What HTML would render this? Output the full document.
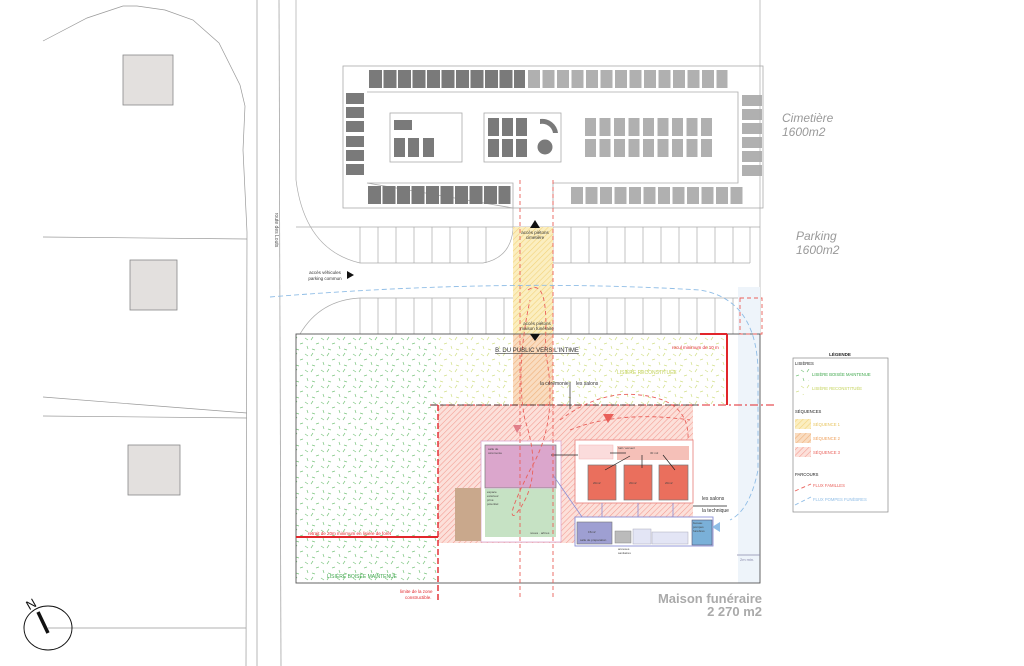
<!DOCTYPE html>
<html><head><meta charset="utf-8"><style>
html,body{margin:0;padding:0;background:#fff;}
svg{display:block;font-family:"Liberation Sans",sans-serif;}
</style></head><body>
<svg width="1024" height="666" viewBox="0 0 1024 666" xmlns="http://www.w3.org/2000/svg">
<defs>
<pattern id="grn" width="16" height="16" patternUnits="userSpaceOnUse">
<path d="M1 2l3 2M9 1l-2 3M12 8l3-1M3 10l1 3M8 13l3 1" stroke="#7cc580" stroke-width="0.7" fill="none"/>
</pattern>
<pattern id="ylw" width="16" height="16" patternUnits="userSpaceOnUse">
<path d="M1 2l3 2M9 1l-2 3M12 8l3-1M3 10l1 3M8 13l3 1" stroke="#d3e08a" stroke-width="0.7" fill="none"/>
</pattern>
<pattern id="h1" width="4" height="4" patternUnits="userSpaceOnUse" patternTransform="rotate(45)">
<rect width="4" height="4" fill="#fbeec0"/><line x1="0" y1="0" x2="0" y2="4" stroke="#f3d37a" stroke-width="1.2"/>
</pattern>
<pattern id="h2" width="4" height="4" patternUnits="userSpaceOnUse" patternTransform="rotate(45)">
<rect width="4" height="4" fill="#f9dcc0"/><line x1="0" y1="0" x2="0" y2="4" stroke="#f0b07a" stroke-width="1.2"/>
</pattern>
<pattern id="h3" width="4" height="4" patternUnits="userSpaceOnUse" patternTransform="rotate(45)">
<rect width="4" height="4" fill="#fce0da"/><line x1="0" y1="0" x2="0" y2="4" stroke="#f39a90" stroke-width="1.1"/>
</pattern>
</defs>

<g stroke="#999" stroke-width="0.7" fill="none">
<path d="M43 41 L87 18 L123 6 L137 6 L165 10 L193 20 L219 43 L240 85 L245 106 L243 150 L247 232 L246 666"/>
<path d="M43 237 L247 239"/>
<path d="M43 397 L247 413"/>
<path d="M43 416 L247 418"/>
<path d="M48 628 L246 628"/>
<line x1="257" y1="0" x2="257" y2="666"/>
<line x1="279" y1="0" x2="281" y2="666"/>
</g>
<g fill="#e3e0de" stroke="#888" stroke-width="0.8">
<rect x="123" y="55" width="50" height="50"/>
<rect x="130" y="260" width="47" height="50"/>
<rect x="128" y="445" width="52" height="50"/>
</g>
<text x="275" y="230" font-size="5" fill="#555" transform="rotate(90 275 230)" text-anchor="middle">route des Louts</text>
<ellipse cx="48" cy="628" rx="24" ry="22" fill="none" stroke="#111" stroke-width="1"/>
<line x1="38" y1="612" x2="48" y2="633" stroke="#111" stroke-width="3.5"/>
<text x="26" y="608" font-size="13" fill="#111" transform="rotate(-30 32 603)">N</text>

<rect x="343" y="66" width="420" height="142" fill="none" stroke="#aaa" stroke-width="0.8"/>
<path d="M367 92 L738 92 L738 183 L553 183 L553 208 M513 208 L513 183 L367 183 Z" fill="#fff" stroke="#aaa" stroke-width="0.8"/>
<rect x="390" y="113" width="72" height="49" fill="none" stroke="#aaa" stroke-width="0.8"/>
<rect x="484" y="113" width="77" height="49" fill="none" stroke="#aaa" stroke-width="0.8"/>
<g fill="#7a7a7a">
<rect x="394" y="120" width="18" height="10"/>
<rect x="394" y="138" width="11" height="19"/><rect x="408" y="138" width="11" height="19"/><rect x="423" y="138" width="11" height="19"/>
<rect x="488" y="118" width="11" height="18"/><rect x="502" y="118" width="11" height="18"/><rect x="516" y="118" width="11" height="18"/>
<rect x="488" y="139" width="11" height="18"/><rect x="502" y="139" width="11" height="18"/><rect x="516" y="139" width="11" height="18"/>
<circle cx="545" cy="147" r="7.5"/>
<path d="M540 119 A16 16 0 0 1 558 133 L553 133 A11 11 0 0 0 540 124 Z"/>
<rect x="369" y="70" width="13" height="18"/><rect x="383.5" y="70" width="13" height="18"/><rect x="398" y="70" width="13" height="18"/><rect x="412.5" y="70" width="13" height="18"/><rect x="427" y="70" width="13" height="18"/><rect x="441.5" y="70" width="13" height="18"/><rect x="456" y="70" width="13" height="18"/><rect x="470.5" y="70" width="13" height="18"/><rect x="485" y="70" width="13" height="18"/><rect x="499.5" y="70" width="13" height="18"/><rect x="514" y="70" width="11" height="18"/>
<rect x="346" y="93" width="18" height="11"/><rect x="346" y="107" width="18" height="11"/><rect x="346" y="121" width="18" height="11"/><rect x="346" y="136" width="18" height="11"/><rect x="346" y="150" width="18" height="11"/><rect x="346" y="164" width="18" height="11"/>
<rect x="368" y="186" width="13" height="18"/><rect x="382.5" y="186" width="13" height="18"/><rect x="397" y="186" width="13" height="18"/><rect x="411.5" y="186" width="13" height="18"/><rect x="426" y="186" width="13" height="18"/><rect x="440.5" y="186" width="13" height="18"/><rect x="455" y="186" width="13" height="18"/><rect x="469.5" y="186" width="13" height="18"/><rect x="484" y="186" width="13" height="18"/><rect x="498.5" y="186" width="12" height="18"/>
</g>
<g fill="#b0b0b0">
<rect x="528" y="70" width="12" height="18"/><rect x="542.5" y="70" width="12" height="18"/><rect x="557" y="70" width="12" height="18"/><rect x="571.5" y="70" width="12" height="18"/><rect x="586" y="70" width="12" height="18"/><rect x="600.5" y="70" width="12" height="18"/><rect x="615" y="70" width="12" height="18"/><rect x="629.5" y="70" width="12" height="18"/><rect x="644" y="70" width="12" height="18"/><rect x="658.5" y="70" width="12" height="18"/><rect x="673" y="70" width="12" height="18"/><rect x="687.5" y="70" width="12" height="18"/><rect x="702" y="70" width="12" height="18"/><rect x="716.5" y="70" width="11" height="18"/>
<rect x="585" y="118" width="11" height="18"/><rect x="599.5" y="118" width="11" height="18"/><rect x="614" y="118" width="11" height="18"/><rect x="628.5" y="118" width="11" height="18"/><rect x="643" y="118" width="11" height="18"/><rect x="657.5" y="118" width="11" height="18"/><rect x="672" y="118" width="11" height="18"/><rect x="686.5" y="118" width="11" height="18"/><rect x="701" y="118" width="11" height="18"/>
<rect x="585" y="139" width="11" height="18"/><rect x="599.5" y="139" width="11" height="18"/><rect x="614" y="139" width="11" height="18"/><rect x="628.5" y="139" width="11" height="18"/><rect x="643" y="139" width="11" height="18"/><rect x="657.5" y="139" width="11" height="18"/><rect x="672" y="139" width="11" height="18"/><rect x="686.5" y="139" width="11" height="18"/><rect x="701" y="139" width="11" height="18"/>
<rect x="742" y="95" width="20" height="11"/><rect x="742" y="109" width="20" height="11"/><rect x="742" y="123" width="20" height="11"/><rect x="742" y="137" width="20" height="11"/><rect x="742" y="151" width="20" height="11"/><rect x="742" y="165" width="20" height="11"/>
<rect x="571" y="187" width="12" height="17"/><rect x="585.5" y="187" width="12" height="17"/><rect x="600" y="187" width="12" height="17"/><rect x="614.5" y="187" width="12" height="17"/><rect x="629" y="187" width="12" height="17"/><rect x="643.5" y="187" width="12" height="17"/><rect x="658" y="187" width="12" height="17"/><rect x="672.5" y="187" width="12" height="17"/><rect x="687" y="187" width="12" height="17"/><rect x="701.5" y="187" width="12" height="17"/><rect x="716" y="187" width="12" height="17"/><rect x="730.5" y="187" width="12" height="17"/>
</g>
<text x="782" y="122" font-size="12" font-style="italic" fill="#999">Cimetière</text>
<text x="782" y="136" font-size="12" font-style="italic" fill="#999">1600m2</text>

<g stroke="#aaa" stroke-width="0.7" fill="none">
<line x1="296" y1="227" x2="760" y2="227"/>
<line x1="760" y1="0" x2="760" y2="334"/>
<path d="M296 0 L296 180 Q305 250 360 263 L483 263 Q510 258 513 230 L513 208"/>
<line x1="553" y1="263" x2="750" y2="263"/>
<path d="M360 227 V263 M378 227 V263 M396 227 V263 M414 227 V263 M432 227 V263 M450 227 V263 M468 227 V263 M486 227 V263 M553 227 V263 M571 227 V263 M589 227 V263 M607 227 V263 M625 227 V263 M643 227 V263 M661 227 V263 M679 227 V263 M697 227 V263 M715 227 V263 M733 227 V263 M750 227 V263"/>
<path d="M300 334 Q320 300 360 298 L750 298"/>
<path d="M360 298 V334 M378 298 V334 M396 298 V334 M414 298 V334 M432 298 V334 M450 298 V334 M468 298 V334 M486 298 V334 M504 298 V334 M553 298 V334 M571 298 V334 M589 298 V334 M607 298 V334 M625 298 V334 M643 298 V334 M661 298 V334 M679 298 V334 M697 298 V334 M715 298 V334 M733 298 V334 M750 298 V334"/>
</g>
<text x="796" y="240" font-size="12" font-style="italic" fill="#999">Parking</text>
<text x="796" y="254" font-size="12" font-style="italic" fill="#999">1600m2</text>

<rect x="296" y="334" width="142" height="249" fill="url(#grn)"/>
<rect x="438" y="334" width="290" height="71" fill="url(#ylw)"/>
<rect x="738" y="287" width="22" height="296" fill="#eef4fa"/>
<rect x="513" y="227" width="40" height="107" fill="url(#h1)"/>
<rect x="513" y="334" width="40" height="71" fill="url(#h2)"/>
<rect x="438" y="405" width="255" height="138" fill="url(#h3)"/>
<rect x="296" y="334" width="464" height="249" fill="none" stroke="#555" stroke-width="0.9"/>

<rect x="481" y="441" width="80" height="101" fill="#fff" stroke="#d9a6cf" stroke-width="0.8"/>
<rect x="455" y="488" width="26" height="53" fill="#c9a88c"/>
<rect x="485" y="445" width="71" height="43" fill="#dba6cc" stroke="#777" stroke-width="0.7"/>
<rect x="485" y="489" width="71" height="48" fill="#c6e2c4"/>
<rect x="575" y="440" width="118" height="63" fill="#fff" stroke="#e98a86" stroke-width="0.9"/>
<rect x="579" y="445" width="34" height="14" fill="#fbdcdc" stroke="#f3b6b2" stroke-width="0.5"/>
<rect x="617" y="446" width="72" height="14" fill="#f5c0b8"/>
<g fill="#ea6f5d" stroke="#777" stroke-width="0.7">
<rect x="588" y="465" width="28" height="35"/><rect x="624" y="465" width="28" height="35"/><rect x="659" y="465" width="29" height="35"/>
</g>
<rect x="575" y="517" width="138" height="29" fill="#fff" stroke="#8a8ed6" stroke-width="0.9"/>
<rect x="577" y="522" width="35" height="22" fill="#9e9fd2" stroke="#777" stroke-width="0.6"/>
<rect x="615" y="531" width="16" height="12" fill="#bbb" stroke="#888" stroke-width="0.5"/>
<rect x="633" y="529" width="18" height="15" fill="#e3e5f5" stroke="#aab" stroke-width="0.5"/>
<rect x="652" y="532" width="36" height="12" fill="#e3e5f5" stroke="#aab" stroke-width="0.5"/>
<rect x="692" y="520" width="20" height="25" fill="#7ab0d8" stroke="#557" stroke-width="0.6"/>
<g stroke="#8a8ed6" stroke-width="0.8">
<line x1="602" y1="503" x2="602" y2="517"/><line x1="638" y1="503" x2="638" y2="517"/><line x1="673" y1="503" x2="673" y2="517"/>
<line x1="553" y1="475" x2="582" y2="517"/>
</g>
<g stroke="#222" stroke-width="0.7" fill="none">
<line x1="551" y1="455" x2="578" y2="455"/><line x1="626" y1="453" x2="610" y2="453"/>
<line x1="630" y1="456" x2="605" y2="470"/><line x1="642" y1="455" x2="642" y2="468"/><line x1="663" y1="455" x2="675" y2="470"/>
<line x1="570" y1="382" x2="570" y2="409"/>
<line x1="693" y1="506" x2="727" y2="506"/>
</g>
<g font-size="3" fill="#444">
<text x="488" y="450">salle de</text><text x="488" y="454">cérémonie</text>
<text x="487" y="493">espace</text><text x="487" y="497">extérieur</text><text x="487" y="501">privé</text><text x="487" y="505">potentiel</text>
<text x="530" y="534">noues · arbres</text>
<text x="593" y="484">20m2</text><text x="629" y="484">20m2</text><text x="665" y="484">20m2</text>
<text x="580" y="541">salle de préparation</text><text x="588" y="533">15m2</text>
<text x="618" y="449">hall / accueil</text><text x="650" y="454">30 m2</text>
<text x="618" y="550">annexes</text><text x="618" y="554">sanitaires</text>
<text x="693" y="524">bureau</text><text x="693" y="528">pompes</text><text x="693" y="532">funèbres</text>
</g>
<g stroke="#e1262b" fill="none">
<line x1="438" y1="405" x2="438" y2="600" stroke-width="1.4" stroke-dasharray="6,3"/>
<line x1="296" y1="537" x2="438" y2="537" stroke-width="2"/>
<line x1="727" y1="334" x2="727" y2="405" stroke-width="2"/>
<line x1="700" y1="334" x2="727" y2="334" stroke-width="2"/>
<line x1="430" y1="405" x2="775" y2="405" stroke-width="1.1" stroke-dasharray="8,3,2,3"/>
</g>
<line x1="431" y1="405" x2="700" y2="405" stroke="#222" stroke-width="0.8" stroke-dasharray="6,3"/>
<g stroke="#e9605a" stroke-width="0.9" fill="none" stroke-dasharray="4,3">
<line x1="520" y1="180" x2="520" y2="600"/><line x1="553" y1="180" x2="553" y2="600"/>
<path d="M528 290 Q550 275 545 350 Q560 420 530 470 Q505 520 515 515 Q545 480 525 420 Q515 370 530 300"/>
<path d="M560 420 Q600 390 640 395 Q690 400 688 440"/>
<path d="M570 430 Q620 410 690 420"/>
<rect x="740" y="298" width="22" height="36"/>
</g>
<g stroke="#8fbde6" stroke-width="0.9" fill="none" stroke-dasharray="5,3">
<path d="M270 297 Q500 278 700 290 Q760 300 758 380 L758 470 Q750 510 730 520"/>
</g>
<polygon points="513,425 522,425 517,433" fill="#e17f8a"/>
<polygon points="603,414 614,414 608,423" fill="#e9605a"/>
<polygon points="720,522 720,532 712,527" fill="#8fbde6"/>
<polygon points="530,228 540,228 535,220" fill="#111"/>
<polygon points="530,334 540,334 535,341" fill="#111"/>
<polygon points="347,271 347,279 354,275" fill="#111"/>

<g font-size="4.5" fill="#333" text-anchor="middle">
<text x="535" y="234">accès piétons</text><text x="535" y="239">cimetière</text>
<text x="537" y="325">accès piétons</text><text x="537" y="330">maison funéraire</text>
<text x="325" y="274">accès véhicules</text><text x="325" y="280">parking commun</text>
</g>
<text x="537" y="352" font-size="6" fill="#333" text-anchor="middle" text-decoration="underline">B. DU PUBLIC VERS L'INTIME</text>
<text x="540" y="385" font-size="5" fill="#333">la cérémonie</text>
<text x="576" y="385" font-size="5" fill="#333">les salons</text>
<text x="702" y="500" font-size="5" fill="#333">les salons</text>
<text x="702" y="512" font-size="5" fill="#333">la technique</text>
<text x="672" y="349" font-size="4.5" fill="#e1262b">recul minimum de 10 m</text>
<text x="308" y="535" font-size="4.5" fill="#e1262b">retrait de 20m minimum en lisière de forêt</text>
<text x="400" y="593" font-size="4.5" fill="#e1262b">limite de la zone</text>
<text x="405" y="599" font-size="4.5" fill="#e1262b">constructible.</text>
<text x="617" y="374" font-size="5" fill="#c4d35b">LISIÈRE RECONSTITUÉE</text>
<text x="327" y="578" font-size="5" fill="#3da64a">LISIÈRE BOISÉE MAINTENUE</text>
<text x="740" y="561" font-size="4" fill="#88a">2m min.</text>
<line x1="737" y1="555" x2="760" y2="555" stroke="#88a" stroke-width="0.8"/>
<text x="762" y="603" font-size="13" font-weight="bold" fill="#aaa" text-anchor="end">Maison funéraire</text>
<text x="762" y="616" font-size="13" font-weight="bold" fill="#aaa" text-anchor="end">2 270 m2</text>

<text x="840" y="356" font-size="4.5" fill="#222" text-anchor="middle" font-weight="bold">LÉGENDE</text>
<rect x="793" y="358" width="95" height="154" fill="#fff" stroke="#888" stroke-width="0.7"/>
<g font-size="4.2">
<text x="795" y="365" fill="#222">LISIÈRES</text>
<rect x="795" y="369" width="16" height="12" fill="url(#grn)"/><text x="812" y="376" fill="#3da64a">LISIÈRE BOISÉE MAINTENUE</text>
<rect x="795" y="383" width="16" height="12" fill="url(#ylw)"/><text x="812" y="390" fill="#c4d35b">LISIÈRE RECONSTITUÉE</text>
<text x="795" y="413" fill="#222">SÉQUENCES</text>
<rect x="795" y="419" width="16" height="10" fill="url(#h1)"/><text x="813" y="426" fill="#e7c35c">SÉQUENCE 1</text>
<rect x="795" y="433" width="16" height="10" fill="url(#h2)"/><text x="813" y="440" fill="#ef9f5a">SÉQUENCE 2</text>
<rect x="795" y="447" width="16" height="10" fill="url(#h3)"/><text x="813" y="454" fill="#e9605a">SÉQUENCE 3</text>
<text x="795" y="476" fill="#222">PARCOURS</text>
<line x1="795" y1="491" x2="811" y2="484" stroke="#e9605a" stroke-width="0.9" stroke-dasharray="4,3"/><text x="813" y="487" fill="#e9605a">FLUX FAMILLES</text>
<line x1="795" y1="505" x2="811" y2="497" stroke="#8fbde6" stroke-width="0.9" stroke-dasharray="4,3"/><text x="813" y="501" fill="#8fbde6">FLUX POMPES FUNÈBRES</text>
</g>
</svg>
</body></html>
